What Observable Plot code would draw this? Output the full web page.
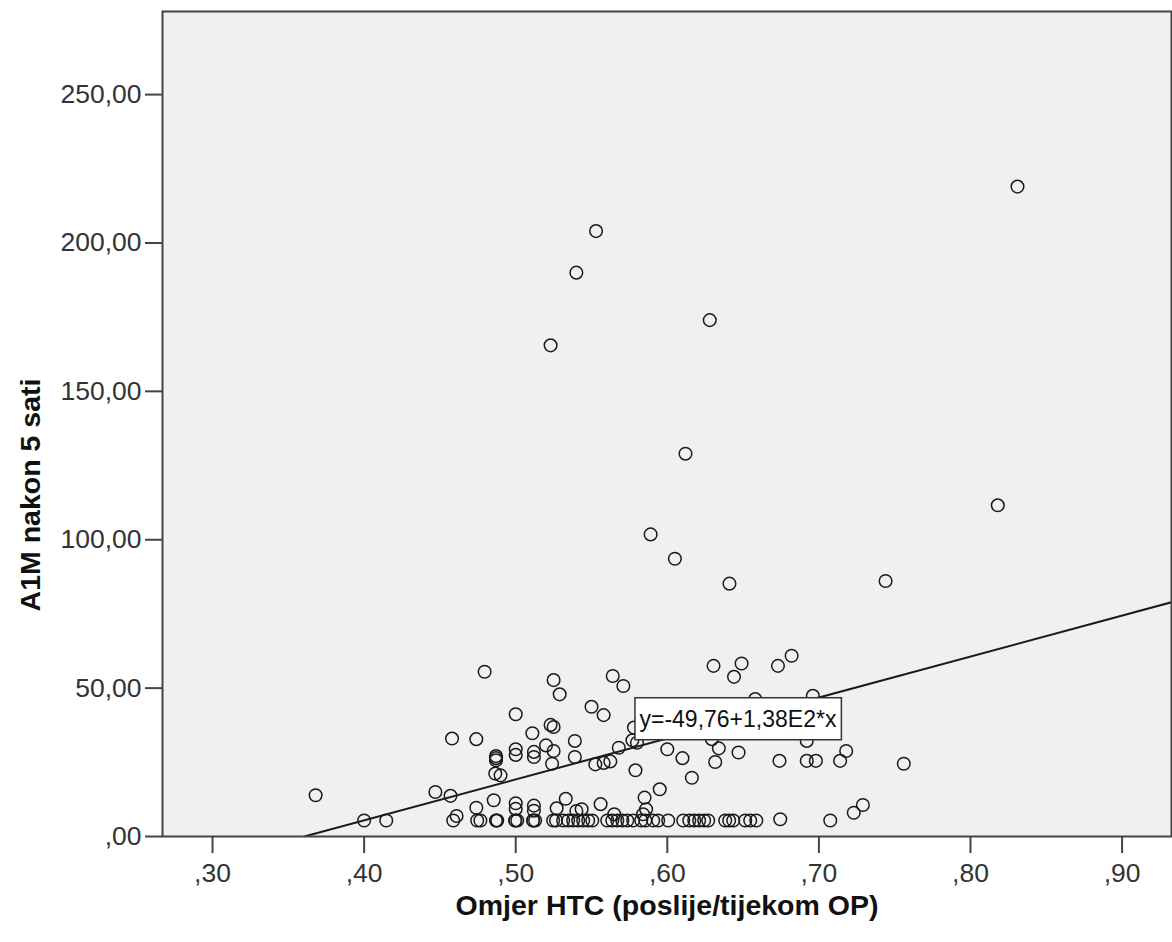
<!DOCTYPE html>
<html>
<head>
<meta charset="utf-8">
<script src="https://cdn.jsdelivr.net/npm/d3@7"></script>
<script src="https://cdn.jsdelivr.net/npm/@observablehq/plot@0.6"></script>
<style>
  body { margin: 0; background: #ffffff; }
  #chart svg { display: block; }
</style>
</head>
<body>
<div id="chart"></div>
<script>
// ---- Text ----
const xTitle = "Omjer HTC (poslije/tijekom OP)";
const yTitle = "A1M nakon 5 sati";
const fitLabel = "y=-49,76+1,38E2*x";

// ---- Axis ticks / domains ----
const xTicks = [0.3, 0.4, 0.5, 0.6, 0.7, 0.8, 0.9];
const yTicks = [0, 50, 100, 150, 200, 250];
const xDomain = [0.267, 0.9326];
const yDomain = [0, 278];

// ---- Fit line (from the label) ----
const fitIntercept = -49.76;
const fitSlope = 138;

// ---- Data: Omjer HTC (x) and A1M nakon 5 sati (y) ----
const ratio = [
  // high values
  0.831, 0.553, 0.540, 0.628, 0.523, 0.612, 0.589, 0.605, 0.641, 0.818, 0.744,
  // middle values
  0.4795, 0.525, 0.529, 0.500, 0.511, 0.523, 0.525, 0.458, 0.474, 0.520,
  0.525, 0.539, 0.539, 0.524, 0.487, 0.487, 0.487, 0.500, 0.500, 0.512,
  0.512, 0.4865, 0.490, 0.564, 0.571, 0.550, 0.558, 0.578, 0.577, 0.580,
  0.568, 0.600, 0.610, 0.5525, 0.558, 0.5624, 0.579, 0.6305, 0.649, 0.644,
  0.673, 0.682, 0.658, 0.696, 0.6294, 0.634, 0.647, 0.6316, 0.6162, 0.674,
  0.692, 0.692, 0.698, 0.714, 0.718, 0.756,
  // low values
  0.368, 0.447, 0.457, 0.4855, 0.474, 0.500, 0.500, 0.512, 0.512, 0.533,
  0.527, 0.556, 0.540, 0.5435, 0.565, 0.585, 0.586, 0.584, 0.595, 0.723,
  0.729, 0.461,
  // values at the floor
  0.400, 0.4146, 0.4588, 0.4746, 0.4767, 0.4871, 0.4878, 0.4871, 0.4997, 0.5010,
  0.4997, 0.5115, 0.5128, 0.5115, 0.5247, 0.5266, 0.5313, 0.5346, 0.5379, 0.5412,
  0.5445, 0.5478, 0.5505, 0.5604, 0.5637, 0.5670, 0.5703, 0.5736, 0.5775, 0.5828,
  0.5855, 0.5907, 0.5940, 0.6006, 0.6105, 0.6145, 0.6178, 0.6210, 0.6243, 0.6270,
  0.6382, 0.6408, 0.6435, 0.6514, 0.6547, 0.6587, 0.6745, 0.7075
];
const a1m = [
  // high values
  219.0, 204.0, 190.0, 174.0, 165.5, 129.0, 101.8, 93.6, 85.2, 111.6, 86.1,
  // middle values
  55.5, 52.7, 47.9, 41.2, 34.8, 37.6, 36.9, 33.0, 32.8, 30.7,
  28.8, 32.2, 26.8, 24.5, 27.1, 26.4, 25.7, 29.4, 27.5, 28.5,
  26.8, 21.2, 20.6, 54.1, 50.7, 43.7, 40.9, 36.7, 32.4, 31.6,
  29.9, 29.4, 26.4, 24.3, 24.8, 25.3, 22.3, 57.5, 58.3, 53.8,
  57.5, 60.9, 46.3, 47.4, 32.8, 29.7, 28.3, 25.1, 19.8, 25.5,
  32.2, 25.5, 25.5, 25.5, 28.8, 24.5,
  // low values
  13.9, 15.0, 13.7, 12.2, 9.7, 11.2, 9.3, 10.4, 8.7, 12.7,
  9.5, 10.9, 8.6, 9.2, 7.5, 13.1, 9.2, 7.5, 15.9, 8.0,
  10.6, 6.9,
  // values at the floor
  5.4, 5.4, 5.4, 5.4, 5.4, 5.4, 5.4, 5.4, 5.4, 5.4,
  5.4, 5.4, 5.4, 5.4, 5.4, 5.4, 5.4, 5.4, 5.4, 5.4,
  5.4, 5.4, 5.4, 5.4, 5.4, 5.4, 5.4, 5.4, 5.4, 5.4,
  5.4, 5.4, 5.4, 5.4, 5.4, 5.4, 5.4, 5.4, 5.4, 5.4,
  5.4, 5.4, 5.4, 5.4, 5.4, 5.4, 5.8, 5.4
];

// ---- Build tables ----
const points = ratio.map((x, i) => ({x, y: a1m[i]}));
const fitX0 = -fitIntercept / fitSlope;
const fitLine = [fitX0, xDomain[1]].map(x => ({x, y: fitIntercept + fitSlope * x}));
const fitMidX = (fitX0 + xDomain[1]) / 2;
const fitLabelRow = [{x: fitMidX, y: fitIntercept + fitSlope * fitMidX, text: fitLabel}];

const spssFmt = d => {
  const s = d.toFixed(2).replace(".", ",");
  return s.startsWith("0,") ? s.slice(1) : s;
};

const font = "'Liberation Sans', Arial, sans-serif";

const chart = Plot.plot({
  width: 1172,
  height: 942,
  marginLeft: 162,
  marginTop: 11,
  marginRight: 1,
  marginBottom: 106,
  style: {fontFamily: font, background: "#ffffff", color: "#333333"},
  x: {domain: xDomain},
  y: {domain: yDomain},
  marks: [
    Plot.frame({fill: "#f0f0f0", stroke: null}),
    Plot.axisX({ticks: xTicks, tickFormat: spssFmt, tickSize: 17, tickPadding: 10,
                fontSize: 26.5, label: null, stroke: "#444444", strokeWidth: 2, fill: "#333333"}),
    Plot.axisY({ticks: yTicks, tickFormat: spssFmt, tickSize: 17, tickPadding: 4,
                fontSize: 26.5, label: null, stroke: "#444444", strokeWidth: 2, fill: "#333333"}),
    Plot.dot(points, {x: "x", y: "y", r: 6.3, stroke: "#1a1a1a", strokeWidth: 1.5, fill: "none"}),
    Plot.line(fitLine, {x: "x", y: "y", stroke: "#1a1a1a", strokeWidth: 2, clip: true}),
    Plot.text(fitLabelRow, {x: "x", y: "y", text: "text", fontSize: 23, fill: "#111111"}),
    Plot.frame({stroke: "#444444", strokeWidth: 2}),
    Plot.text([xTitle], {text: d => d, frameAnchor: "bottom", textAnchor: "middle", lineAnchor: "middle",
                         dy: 69, fontSize: 28.5, fontWeight: "bold", fill: "#111111"}),
    Plot.text([yTitle], {text: d => d, frameAnchor: "left", textAnchor: "middle", lineAnchor: "middle",
                         rotate: -90, dx: -132, dy: 71,
                         fontSize: 28.5, fontWeight: "bold", fill: "#111111"})
  ]
});

document.getElementById("chart").appendChild(chart);

// White bordered box behind the fit label
const labelText = Array.from(chart.querySelectorAll("text")).find(t => t.textContent === fitLabel);
if (labelText) {
  const bb = labelText.getBBox();
  const padX = 4.5, padY = 9;
  const rect = document.createElementNS("http://www.w3.org/2000/svg", "rect");
  rect.setAttribute("x", bb.x - padX);
  rect.setAttribute("y", bb.y - padY + 1);
  rect.setAttribute("width", bb.width + 2 * padX);
  rect.setAttribute("height", bb.height + 2 * padY - 2);
  rect.setAttribute("fill", "#ffffff");
  rect.setAttribute("stroke", "#333333");
  rect.setAttribute("stroke-width", "1.5");
  if (labelText.getAttribute("transform")) rect.setAttribute("transform", labelText.getAttribute("transform"));
  labelText.parentNode.insertBefore(rect, labelText);
}
</script>
</body>
</html>
